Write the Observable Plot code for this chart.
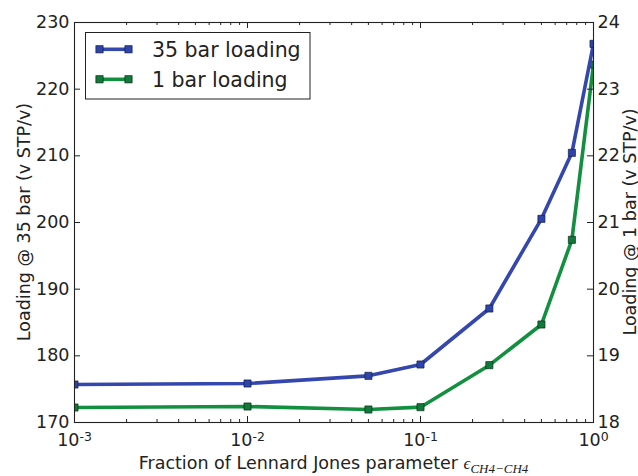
<!DOCTYPE html>
<html><head><meta charset="utf-8">
<script src="https://cdn.jsdelivr.net/npm/d3@7"></script>
<script src="https://cdn.jsdelivr.net/npm/@observablehq/plot@0.6"></script>
<style>html,body{margin:0;padding:0;background:#fff}svg{display:block}</style>
</head><body><div id="chart"></div>
<script>
// ---- data ----
const seriesNames = ["35 bar loading", "1 bar loading"];
const fractions = [0.001, 0.01, 0.05, 0.1, 0.25, 0.5, 0.75, 1.0];
const loading35 = [175.7, 175.85, 177.0, 178.7, 187.1, 200.55, 210.45, 226.8];
const loading1 = [18.225, 18.24, 18.195, 18.23, 18.86, 19.47, 20.74, 23.37];
const xMajorTicks = [0.001, 0.01, 0.1, 1];
const xMinorTicks = [0.002, 0.003, 0.004, 0.005, 0.006, 0.007, 0.008, 0.009,
                     0.02, 0.03, 0.04, 0.05, 0.06, 0.07, 0.08, 0.09,
                     0.2, 0.3, 0.4, 0.5, 0.6, 0.7, 0.8, 0.9];
const leftTicks = [170, 180, 190, 200, 210, 220, 230];
const rightTicks = [18, 19, 20, 21, 22, 23, 24];
const leftLabel = "Loading @ 35 bar (v STP/v)";
const rightLabel = "Loading @ 1 bar (v STP/v)";
const xLabelText = "Fraction of Lennard Jones parameter ";
const xLabelSymbol = "\u03f5";
const xLabelSub = "CH4\u2212CH4";

// ---- layout / style ----
const W = 638, H = 476, mL = 74, mR = 45, mT = 22, mB = 54;
const pw = W - mL - mR, ph = H - mT - mB;
const blue = "#3447ad", blueFill = "#2f44a8";
const green = "#13903f", greenFill = "#117a3a";
const ink = "#222";
const leftDomain = [leftTicks[0], leftTicks[leftTicks.length - 1]];
const rightDomain = [rightTicks[0], rightTicks[rightTicks.length - 1]];
const toLeft = v => leftDomain[0] + (v - rightDomain[0]) * (leftDomain[1] - leftDomain[0]) / (rightDomain[1] - rightDomain[0]);
const fromLeft = v => rightDomain[0] + (v - leftDomain[0]) * (rightDomain[1] - rightDomain[0]) / (leftDomain[1] - leftDomain[0]);

const data35 = fractions.map((f, i) => ({f, v: loading35[i]}));
const data1 = fractions.map((f, i) => ({f, v: toLeft(loading1[i])}));

const plot = Plot.plot({
  width: W, height: H,
  marginLeft: mL, marginRight: mR, marginTop: mT, marginBottom: mB,
  style: {fontFamily: "'DejaVu Sans', sans-serif", fontSize: "17.5px", background: "#fff", color: ink},
  x: {type: "log", domain: [xMajorTicks[0], xMajorTicks[xMajorTicks.length - 1]]},
  y: {domain: leftDomain},
  marks: [
    Plot.line(data1, {x: "f", y: "v", stroke: green, strokeWidth: 3.6, clip: true}),
    Plot.dot(data1, {x: "f", y: "v", symbol: "square", r: 4, fill: greenFill, stroke: "#0a2a14", strokeWidth: 0.7, clip: true}),
    Plot.line(data35, {x: "f", y: "v", stroke: blue, strokeWidth: 3.6, clip: true}),
    Plot.dot(data35, {x: "f", y: "v", symbol: "square", r: 4, fill: blueFill, stroke: "#101c4a", strokeWidth: 0.7, clip: true}),
    Plot.frame({stroke: ink, strokeWidth: 1.1}),
    Plot.tickX(xMinorTicks, {x: d => d, insetTop: ph - 3, stroke: ink}),
    Plot.tickX(xMinorTicks, {x: d => d, insetBottom: ph - 3, stroke: ink}),
    Plot.tickX(xMajorTicks, {x: d => d, insetTop: ph - 6, stroke: ink}),
    Plot.tickX(xMajorTicks, {x: d => d, insetBottom: ph - 6, stroke: ink}),
    Plot.tickY(leftTicks, {y: d => d, insetRight: pw - 6, stroke: ink}),
    Plot.tickY(rightTicks, {y: d => toLeft(d), insetLeft: pw - 6, stroke: ink}),
    Plot.axisX({ticks: xMajorTicks, tickSize: 0, tickPadding: 11, label: null,
      tickFormat: d => "10^" + Math.round(Math.log10(d))}),
    Plot.axisY({anchor: "left", ticks: leftTicks, tickSize: 0, tickPadding: 5, label: null}),
    Plot.axisY({anchor: "right", ticks: rightTicks.map(toLeft), tickSize: 0, tickPadding: 4, label: null,
      tickFormat: d => String(Math.round(fromLeft(d)))})
  ]
});

const svg = d3.select(plot);
// superscript exponents on log ticks
svg.selectAll('[aria-label="x-axis tick label"] text').each(function () {
  const t = d3.select(this);
  const s = t.text();
  const parts = s.split("^");
  if (parts.length !== 2) return;
  t.text("");
  t.append("tspan").text(parts[0]);
  t.append("tspan").attr("dy", "-5").attr("font-size", "12.5px").text(parts[1]);
});

// axis titles
svg.append("text")
  .attr("transform", `translate(29.5,${mT + ph / 2}) rotate(-90)`)
  .attr("text-anchor", "middle").attr("fill", ink)
  .attr("font-family", "'DejaVu Sans', sans-serif").attr("font-size", "17.5px")
  .text(leftLabel);
svg.append("text")
  .attr("transform", `translate(636,${mT + ph / 2}) rotate(-90)`)
  .attr("text-anchor", "middle").attr("fill", ink)
  .attr("font-family", "'DejaVu Sans', sans-serif").attr("font-size", "17.5px")
  .text(rightLabel);
const xl = svg.append("text")
  .attr("x", mL + pw / 2).attr("y", 469)
  .attr("text-anchor", "middle").attr("fill", ink)
  .attr("font-family", "'DejaVu Sans', sans-serif").attr("font-size", "17.5px");
xl.append("tspan").text(xLabelText);
xl.append("tspan").attr("font-family", "'Liberation Serif', serif").attr("font-style", "italic").attr("font-size", "17px").text(xLabelSymbol);
xl.append("tspan").attr("font-family", "'Liberation Serif', serif").attr("font-style", "italic").attr("font-size", "13px").attr("dy", "4").text(xLabelSub);

// legend
const lg = svg.append("g");
lg.append("rect").attr("x", 85.5).attr("y", 32.5).attr("width", 224.5).attr("height", 66.5)
  .attr("fill", "#fff").attr("stroke", ink).attr("stroke-width", 1);
const entries = [
  {name: seriesNames[0], stroke: blue, fill: blueFill, edge: "#101c4a", cy: 49.3},
  {name: seriesNames[1], stroke: green, fill: greenFill, edge: "#0a2a14", cy: 79.3}
];
entries.forEach(e => {
  lg.append("line").attr("x1", 99.5).attr("x2", 128.5).attr("y1", e.cy).attr("y2", e.cy)
    .attr("stroke", e.stroke).attr("stroke-width", 3.6);
  [99.5, 128.5].forEach(cx => {
    lg.append("rect").attr("x", cx - 3.6).attr("y", e.cy - 3.6).attr("width", 7.2).attr("height", 7.2)
      .attr("fill", e.fill).attr("stroke", e.edge).attr("stroke-width", 0.7);
  });
  lg.append("text").attr("x", 152).attr("y", e.cy + 7.4).attr("fill", ink)
    .attr("text-anchor", "start")
    .attr("font-family", "'DejaVu Sans', sans-serif").attr("font-size", "20.5px").text(e.name);
});

document.getElementById("chart").appendChild(plot);
</script>
</body></html>
